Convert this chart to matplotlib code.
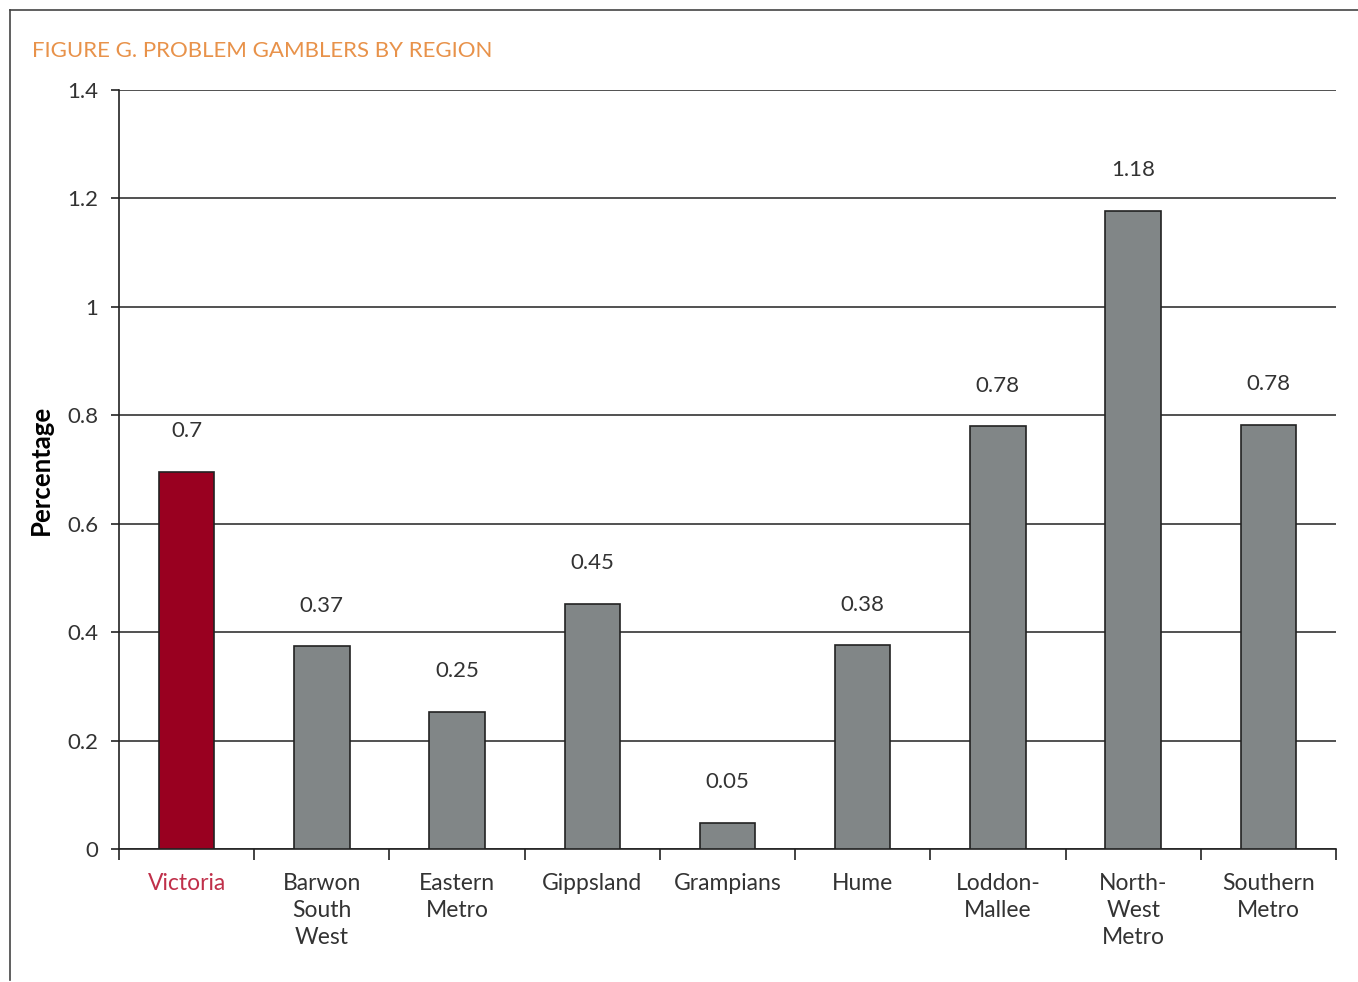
import matplotlib
matplotlib.use("Agg")
import matplotlib.pyplot as plt
from matplotlib.lines import Line2D
import numpy as np

categories = ["Victoria", "Barwon\nSouth\nWest", "Eastern\nMetro", "Gippsland", "Grampians",
              "Hume", "Loddon-\nMallee", "North-\nWest\nMetro", "Southern\nMetro"]
values = [0.696, 0.374, 0.253, 0.452, 0.048, 0.376, 0.780, 1.177, 0.782]
labels = ["0.7", "0.37", "0.25", "0.45", "0.05", "0.38", "0.78", "1.18", "0.78"]
yticks = [0, 0.2, 0.4, 0.6, 0.8, 1.0, 1.2, 1.4]
ytick_labels = ["0", "0.2", "0.4", "0.6", "0.8", "1", "1.2", "1.4"]

plt.rcParams['font.family'] = ['Lato', 'DejaVu Sans']

fig = plt.figure(figsize=(13.58, 9.82), dpi=100)
ax = fig.add_axes([0.0876, 0.1354, 0.8962, 0.7730])

x = np.arange(len(categories))
colors = ["#990020"] + ["#818687"] * (len(categories) - 1)
ax.bar(x, values, width=0.41, color=colors, edgecolor="#222222", linewidth=1.2, zorder=3)

for xi, v, lab in zip(x, values, labels):
    ax.annotate(lab, (xi, v), xytext=(0, 22), textcoords="offset points",
                ha="center", va="bottom", fontsize=16, color="#333333")

ax.set_xlim(-0.5, len(categories) - 0.5)
ax.set_ylim(0, 1.4)
ax.set_yticks(yticks)
ax.set_yticklabels(ytick_labels, fontsize=16, color="#333333")
ax.yaxis.grid(True, color="#222222", linewidth=1.1, zorder=0)
ax.set_axisbelow(True)

ax.set_xticks(x)
ax.set_xticklabels(categories, fontsize=16.5, color="#333333", linespacing=1.35)
ax.get_xticklabels()[0].set_color("#C0304A")
ax.tick_params(axis="x", which="major", length=0, pad=17)
ax.set_xticks(np.arange(-0.5, len(categories)), minor=True)
ax.tick_params(axis="x", which="minor", length=8, width=1.2, color="#222222", direction="out")
ax.tick_params(axis="y", length=6, width=1.2, color="#222222", pad=9)

for s in ["top", "right"]:
    ax.spines[s].set_visible(False)
for s in ["left", "bottom"]:
    ax.spines[s].set_color("#222222")
    ax.spines[s].set_linewidth(1.2)

ax.set_ylabel("Percentage", fontsize=18.5, fontweight="bold", labelpad=10, color="black")

fig.text(32 / 1358, 1 - 51 / 982, "FIGURE G. PROBLEM GAMBLERS BY REGION", fontsize=16,
         color="#E8924A", ha="left", va="center")

fig.add_artist(Line2D([10 / 1358, 1.0], [1 - 10 / 982, 1 - 10 / 982], color="#444444", linewidth=1.2,
                      transform=fig.transFigure))
fig.add_artist(Line2D([10 / 1358, 10 / 1358], [1 - 10 / 982, 1 - 980 / 982], color="#444444", linewidth=1.2,
                      transform=fig.transFigure))

fig.savefig("out.png", dpi=100)
